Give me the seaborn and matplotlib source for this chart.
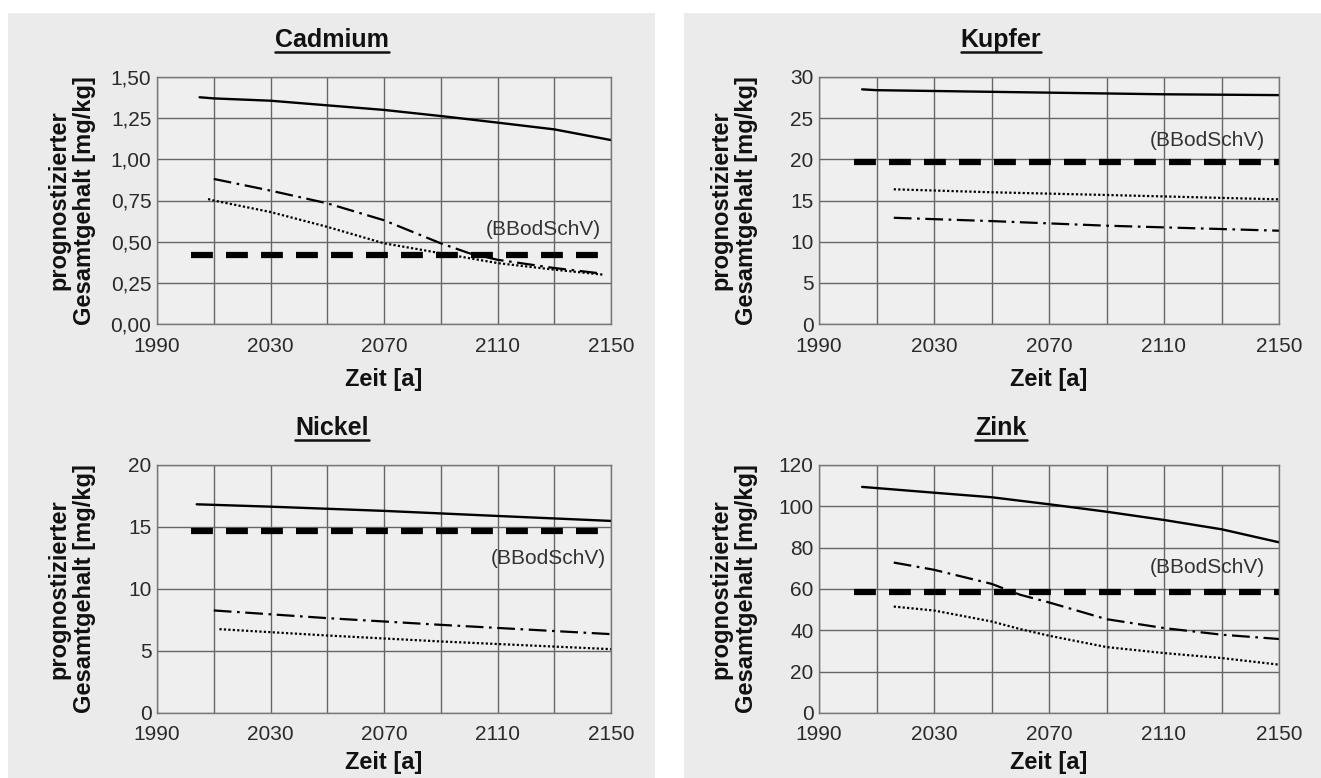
import matplotlib
matplotlib.use("Agg")
import matplotlib.pyplot as plt
from matplotlib.lines import Line2D
from matplotlib.patches import Rectangle
from matplotlib.ticker import FuncFormatter, MultipleLocator, FixedLocator
import seaborn as sns

W, H = 1321, 778

# --- Cadmium ---
cd_solid_x = [2005, 2010, 2030, 2050, 2070, 2090, 2110, 2130, 2150]
cd_solid_y = [1.377, 1.37, 1.356, 1.328, 1.30, 1.263, 1.223, 1.182, 1.117]
cd_dashdot_x = [2010, 2030, 2050, 2070, 2090, 2100, 2110, 2130, 2145]
cd_dashdot_y = [0.881, 0.81, 0.733, 0.63, 0.49, 0.43, 0.39, 0.34, 0.31]
cd_dotted_x = [2008, 2010, 2030, 2050, 2070, 2090, 2110, 2130, 2147]
cd_dotted_y = [0.759, 0.75, 0.68, 0.59, 0.49, 0.43, 0.37, 0.33, 0.30]
cd_limit = 0.42

# --- Kupfer ---
cu_solid_x = [2005, 2010, 2030, 2070, 2110, 2150]
cu_solid_y = [28.5, 28.4, 28.3, 28.1, 27.9, 27.8]
cu_dotted_x = [2016, 2050, 2090, 2150]
cu_dotted_y = [16.36, 16.0, 15.67, 15.14]
cu_dashdot_x = [2016, 2050, 2090, 2150]
cu_dashdot_y = [12.9, 12.5, 11.94, 11.33]
cu_limit = 19.64

# --- Nickel ---
ni_solid_x = [2004, 2030, 2070, 2110, 2150]
ni_solid_y = [16.83, 16.64, 16.3, 15.89, 15.49]
ni_dashdot_x = [2010, 2050, 2090, 2150]
ni_dashdot_y = [8.27, 7.65, 7.11, 6.36]
ni_dotted_x = [2012, 2050, 2090, 2150]
ni_dotted_y = [6.76, 6.25, 5.77, 5.15]
ni_limit = 14.68

# --- Zink ---
zn_solid_x = [2005, 2030, 2050, 2070, 2090, 2110, 2130, 2150]
zn_solid_y = [109.4, 106.6, 104.4, 101.0, 97.4, 93.4, 88.9, 82.6]
zn_dashdot_x = [2016, 2030, 2050, 2060, 2070, 2090, 2110, 2130, 2150]
zn_dashdot_y = [72.8, 69.3, 62.5, 57.2, 53.5, 45.4, 41.1, 37.9, 35.8]
zn_dotted_x = [2016, 2030, 2050, 2060, 2070, 2090, 2110, 2130, 2150]
zn_dotted_y = [51.5, 49.6, 44.3, 40.6, 37.4, 31.9, 29.0, 26.6, 23.4]
zn_limit = 58.6

limit_start = 2002
x_range = (1990, 2150)
x_ticks = [1990, 2030, 2070, 2110, 2150]
x_grid = [2010, 2050, 2090, 2130]

titles = ["Cadmium", "Kupfer", "Nickel", "Zink"]
y_max = [1.5, 30, 20, 120]
y_step = [0.25, 5, 5, 20]
label_pos = [(2126, 0.571), (2125, 22.3), (2128, 12.5), (2125, 70.6)]
limit_text = "(BBodSchV)"
ylabel_text = "prognostizierter\nGesamtgehalt [mg/kg]"
xlabel_text = "Zeit [a]"

panels = [
    (cd_solid_x, cd_solid_y, cd_dashdot_x, cd_dashdot_y, cd_dotted_x, cd_dotted_y, cd_limit),
    (cu_solid_x, cu_solid_y, cu_dashdot_x, cu_dashdot_y, cu_dotted_x, cu_dotted_y, cu_limit),
    (ni_solid_x, ni_solid_y, ni_dashdot_x, ni_dashdot_y, ni_dotted_x, ni_dotted_y, ni_limit),
    (zn_solid_x, zn_solid_y, zn_dashdot_x, zn_dashdot_y, zn_dotted_x, zn_dotted_y, zn_limit),
]

# axes boxes in pixels: left, top, right, bottom
boxes = [(157, 77, 611, 324), (819, 77, 1279, 324),
         (157, 465, 611, 713), (819, 465, 1279, 713)]
title_centers = [(332, 40), (1001, 40), (332, 428), (1001, 428)]
xlabel_offset = [56, 56, 49, 49]

sns.set_style("white")
plt.rcParams['font.family'] = ['Liberation Sans', 'DejaVu Sans']

fig = plt.figure(figsize=(W / 100, H / 100), dpi=100)
fig.patch.set_facecolor('white')

# grey panel backgrounds
for x0, x1 in [(8, 655), (684, 1321)]:
    fig.patches.append(Rectangle((x0 / W, 0), (x1 - x0) / W, 1 - 13 / H,
                                 transform=fig.transFigure, facecolor='#ebebeb',
                                 edgecolor='none', zorder=-5))

title_artists = []
for i, (sx, sy, dx, dy, px, py, lim) in enumerate(panels):
    l, t, r, b = boxes[i]
    ax = fig.add_axes([l / W, 1 - b / H, (r - l) / W, (b - t) / H])
    ax.set_facecolor('#efefef')

    sns.lineplot(x=sx, y=sy, ax=ax, color='black', lw=1.7, estimator=None, sort=False)
    sns.lineplot(x=dx, y=dy, ax=ax, color='black', lw=1.6, estimator=None, sort=False,
                 linestyle=(0, (8, 2.5, 1.2, 2.5)))
    sns.lineplot(x=px, y=py, ax=ax, color='black', lw=1.6, estimator=None, sort=False,
                 linestyle=(0, (1, 1)))
    sns.lineplot(x=[limit_start, x_range[1]], y=[lim, lim], ax=ax, color='black', lw=4.5,
                 estimator=None, sort=False, linestyle=(0, (3.5, 2.1)),
                 solid_capstyle='butt', dash_capstyle='butt')

    ax.set_xlim(*x_range)
    ax.set_ylim(0, y_max[i])
    ax.xaxis.set_major_locator(FixedLocator(x_ticks))
    ax.xaxis.set_minor_locator(FixedLocator(x_grid))
    ax.xaxis.set_major_formatter(FuncFormatter(lambda v, p: f"{v:.0f}"))
    ax.yaxis.set_major_locator(MultipleLocator(y_step[i]))
    if i == 0:
        ax.yaxis.set_major_formatter(FuncFormatter(lambda v, p: f"{v:.2f}".replace('.', ',')))
    else:
        ax.yaxis.set_major_formatter(FuncFormatter(lambda v, p: f"{v:.0f}"))
    ax.grid(True, which='both', axis='x', color='#666666', lw=1.0)
    ax.grid(True, which='major', axis='y', color='#666666', lw=1.0)
    ax.set_axisbelow(True)
    for sp in ax.spines.values():
        sp.set_color('#777777')
        sp.set_linewidth(1.0)
    ax.tick_params(axis='x', which='both', length=0, pad=9, labelsize=15, labelcolor='#2a2a2a')
    ax.tick_params(axis='y', length=4, width=1, color='#777777', pad=0,
                   labelsize=15, labelcolor='#2a2a2a')
    ax.set_xlabel("")
    ax.set_ylabel("")

    ax.text(label_pos[i][0], label_pos[i][1], limit_text, ha='center', va='center',
            fontsize=15, color='#333333')

    # axis labels
    cx = (l + r) / 2
    fig.text(cx / W, 1 - (b + xlabel_offset[i]) / H, xlabel_text, ha='center', va='center',
             fontsize=17, fontweight='bold', color='#111111')
    fig.text((l - 85) / W, 1 - ((t + b) / 2) / H, ylabel_text, ha='center', va='center',
             rotation=90, multialignment='center', linespacing=1.15,
             fontsize=17, fontweight='bold', color='#111111')

    tx, ty = title_centers[i]
    tt = fig.text(tx / W, 1 - ty / H, titles[i], ha='center', va='center',
                  fontsize=18, fontweight='bold', color='#111111')
    title_artists.append((tt, ty))

# underline the titles
fig.canvas.draw()
renderer = fig.canvas.get_renderer()
for tt, ty in title_artists:
    bb = tt.get_window_extent(renderer)
    uy = 1 - (ty + 12) / H
    fig.add_artist(Line2D([bb.x0 / W, bb.x1 / W], [uy, uy], transform=fig.transFigure,
                          color='#111111', lw=1.8))

fig.savefig("out.png", dpi=100, facecolor=fig.get_facecolor())
